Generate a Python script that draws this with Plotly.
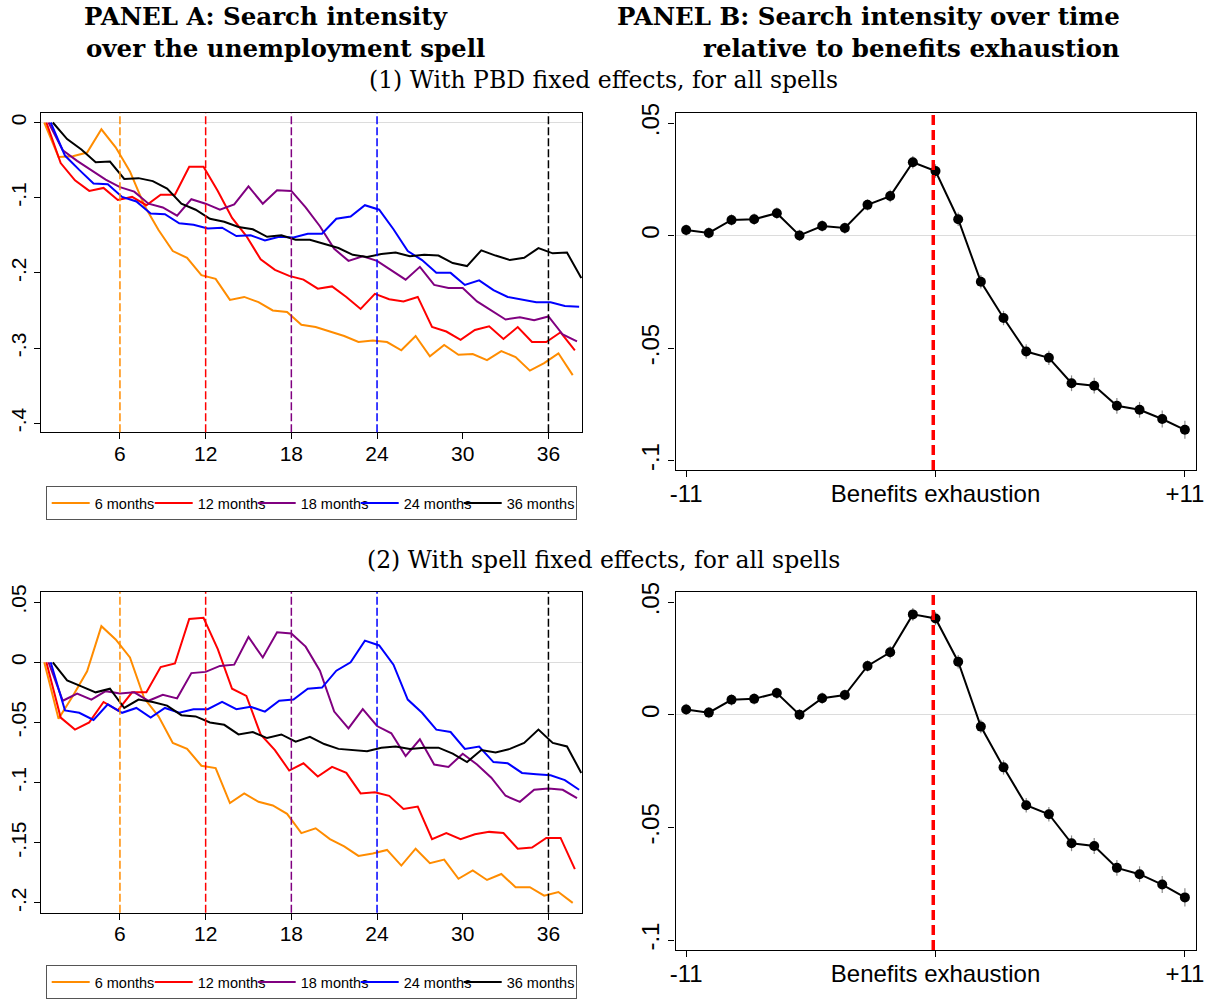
import plotly.graph_objects as go

# ---------------- data ----------------
months = list(range(1, 39))
series_names = ["6 months", "12 months", "18 months", "24 months", "36 months"]
exhaust_months = [6, 12, 18, 24, 36]
series_colors = ["#FF8C00", "#FF0000", "#800080", "#0000FF", "#000000"]
x_jitter = [-0.3, -0.15, 0.0, 0.15, 0.3]

# Panel A (1): PBD fixed effects
pbd_6 = [0, -0.046, -0.045, -0.040, -0.009, -0.033, -0.065, -0.110, -0.143, -0.171,
         -0.180, -0.203, -0.208, -0.236, -0.232, -0.239, -0.250, -0.252, -0.269, -0.272,
         -0.278, -0.284, -0.292, -0.290, -0.292, -0.303, -0.284, -0.311, -0.296, -0.309,
         -0.308, -0.316, -0.304, -0.312, -0.330, -0.320, -0.307, -0.336]
pbd_12 = [0, -0.054, -0.077, -0.091, -0.087, -0.103, -0.099, -0.110, -0.096, -0.096,
          -0.059, -0.059, -0.091, -0.127, -0.151, -0.182, -0.196, -0.204, -0.209, -0.221,
          -0.218, -0.232, -0.248, -0.228, -0.235, -0.238, -0.232, -0.272, -0.278, -0.289,
          -0.276, -0.271, -0.288, -0.272, -0.292, -0.292, -0.279, -0.303]
pbd_18 = [0, -0.037, -0.051, -0.064, -0.076, -0.086, -0.092, -0.108, -0.113, -0.124,
          -0.102, -0.108, -0.116, -0.109, -0.085, -0.108, -0.090, -0.091, -0.113, -0.138,
          -0.168, -0.184, -0.178, -0.184, -0.196, -0.209, -0.192, -0.216, -0.220, -0.220,
          -0.238, -0.250, -0.262, -0.259, -0.263, -0.258, -0.282, -0.291]
pbd_24 = [0, -0.044, -0.063, -0.081, -0.082, -0.099, -0.105, -0.121, -0.122, -0.134,
          -0.136, -0.141, -0.140, -0.151, -0.150, -0.157, -0.152, -0.153, -0.148, -0.148,
          -0.128, -0.125, -0.110, -0.116, -0.142, -0.171, -0.183, -0.200, -0.200, -0.216,
          -0.210, -0.223, -0.232, -0.236, -0.239, -0.239, -0.244, -0.245]
pbd_36 = [0, -0.022, -0.036, -0.053, -0.052, -0.075, -0.074, -0.078, -0.088, -0.108,
          -0.116, -0.128, -0.132, -0.139, -0.142, -0.152, -0.150, -0.156, -0.156, -0.161,
          -0.167, -0.176, -0.179, -0.175, -0.173, -0.178, -0.176, -0.177, -0.187, -0.191,
          -0.170, -0.177, -0.183, -0.180, -0.167, -0.174, -0.173, -0.207]

# Panel A (2): spell fixed effects
spell_6 = [0, -0.047, -0.028, -0.0075, 0.030, 0.019, 0.004, -0.030, -0.045, -0.067,
           -0.072, -0.086, -0.088, -0.117, -0.109, -0.116, -0.119, -0.126, -0.142, -0.138,
           -0.147, -0.153, -0.161, -0.159, -0.156, -0.169, -0.155, -0.167, -0.164, -0.180,
           -0.173, -0.181, -0.176, -0.187, -0.187, -0.194, -0.191, -0.200]
spell_12 = [0, -0.046, -0.056, -0.050, -0.033, -0.040, -0.025, -0.025, -0.004, -0.001,
            0.036, 0.037, 0.011, -0.022, -0.028, -0.060, -0.073, -0.090, -0.084, -0.095,
            -0.087, -0.092, -0.109, -0.108, -0.111, -0.122, -0.120, -0.147, -0.142, -0.147,
            -0.143, -0.141, -0.142, -0.155, -0.154, -0.146, -0.146, -0.172]
spell_18 = [0, -0.032, -0.026, -0.031, -0.024, -0.026, -0.025, -0.032, -0.027, -0.030,
            -0.009, -0.008, -0.003, -0.002, 0.021, 0.004, 0.025, 0.024, 0.013, -0.007,
            -0.041, -0.055, -0.039, -0.053, -0.059, -0.078, -0.064, -0.085, -0.087, -0.076,
            -0.085, -0.096, -0.111, -0.116, -0.106, -0.105, -0.106, -0.113]
spell_24 = [0, -0.040, -0.042, -0.048, -0.035, -0.042, -0.038, -0.046, -0.038, -0.042,
            -0.039, -0.039, -0.033, -0.039, -0.037, -0.041, -0.032, -0.031, -0.022, -0.021,
            -0.007, 0.000, 0.018, 0.014, -0.002, -0.031, -0.042, -0.056, -0.058, -0.072,
            -0.070, -0.083, -0.084, -0.092, -0.093, -0.094, -0.098, -0.106]
spell_36 = [0, -0.015, -0.020, -0.025, -0.022, -0.038, -0.031, -0.033, -0.036, -0.044,
            -0.045, -0.050, -0.052, -0.060, -0.058, -0.063, -0.060, -0.066, -0.062, -0.068,
            -0.072, -0.073, -0.074, -0.071, -0.070, -0.072, -0.071, -0.071, -0.076, -0.083,
            -0.073, -0.075, -0.072, -0.067, -0.056, -0.067, -0.070, -0.092]

# Panel B: relative to benefits exhaustion
rel_months = list(range(-11, 12))
pbd_rel = [0.0025, 0.0012, 0.0070, 0.0073, 0.0100, 0.0001, 0.0043, 0.0034, 0.0137, 0.0176,
           0.0326, 0.0287, 0.0073, -0.0205, -0.0366, -0.0515, -0.0543, -0.0656, -0.0667,
           -0.0756, -0.0774, -0.0815, -0.0863]
pbd_rel_ci = [0.0025, 0.0025, 0.0025, 0.0025, 0.0025, 0.0025, 0.0025, 0.0025, 0.0025, 0.0028,
              0.0028, 0.0030, 0.0030, 0.0030, 0.0032, 0.0032, 0.0032, 0.0035, 0.0035,
              0.0035, 0.0035, 0.0038, 0.0040]
spell_rel = [0.0024, 0.0010, 0.0067, 0.0071, 0.0097, 0.0001, 0.0074, 0.0088, 0.0217, 0.0278,
             0.0446, 0.0428, 0.0236, -0.0052, -0.0233, -0.0401, -0.0441, -0.0570, -0.0582,
             -0.0679, -0.0707, -0.0753, -0.0810]
spell_rel_ci = [0.0025, 0.0025, 0.0025, 0.0025, 0.0025, 0.0025, 0.0025, 0.0025, 0.0025, 0.0028,
                0.0028, 0.0030, 0.0030, 0.0030, 0.0032, 0.0032, 0.0032, 0.0035, 0.0035,
                0.0035, 0.0035, 0.0038, 0.0040]
exhaustion_x = -0.1

left_xticks = [6, 12, 18, 24, 30, 36]
top_left_yticks = [0, -0.1, -0.2, -0.3, -0.4]
top_left_ylabels = ["0", "-.1", "-.2", "-.3", "-.4"]
bot_left_yticks = [0.05, 0, -0.05, -0.1, -0.15, -0.2]
bot_left_ylabels = [".05", "0", "-.05", "-.1", "-.15", "-.2"]
right_yticks = [0.05, 0, -0.05, -0.1]
right_ylabels = [".05", "0", "-.05", "-.1"]
right_xticks = [-11, 0, 11]
right_xlabels = ["-11", "Benefits exhaustion", "+11"]

# ---------------- figure ----------------
W, H = 1211, 999
def fx(px):
    return px / W
def fy(py):
    return 1 - py / H

fig = go.Figure()

top_sets = [pbd_6, pbd_12, pbd_18, pbd_24, pbd_36]
bot_sets = [spell_6, spell_12, spell_18, spell_24, spell_36]
for grp, sets, xa, ya, lg in [(0, top_sets, "x", "y", "legend"), (1, bot_sets, "x3", "y3", "legend2")]:
    for i, name in enumerate(series_names):
        xs = [m + x_jitter[i] for m in months]
        tr = go.Scatter(x=xs, y=sets[i], mode="lines", name=name,
                        line=dict(color=series_colors[i], width=2),
                        xaxis=xa, yaxis=ya, legend=lg)
        if i == len(series_names) - 1:
            tr.legendwidth = 64
        fig.add_trace(tr)

for ys, ci, xa, ya in [(pbd_rel, pbd_rel_ci, "x2", "y2"), (spell_rel, spell_rel_ci, "x4", "y4")]:
    fig.add_trace(go.Scatter(x=rel_months, y=ys, mode="lines+markers", showlegend=False,
                             line=dict(color="black", width=2),
                             marker=dict(color="black", size=10),
                             error_y=dict(type="data", array=ci, visible=True,
                                          color="#8a8a8a", thickness=1.2, width=0),
                             xaxis=xa, yaxis=ya))

tickfont = dict(family="Liberation Sans, Arial, sans-serif", size=21, color="black")
tickfont_r = dict(family="Liberation Sans, Arial, sans-serif", size=24, color="black")

def xaxis_common(domain, rng, tv, tt, font, anchor):
    return dict(domain=domain, range=rng, tickvals=tv, ticktext=tt, tickfont=font,
                ticks="outside", ticklen=6, tickwidth=1.2, tickcolor="black",
                ticklabelstandoff=-4,
                showline=True, linecolor="black", linewidth=1.3, mirror=True,
                showgrid=False, zeroline=False, anchor=anchor, automargin=False,
                fixedrange=True)

def yaxis_common(domain, rng, tv, tt, font, anchor):
    return dict(domain=domain, range=rng, tickvals=tv, ticktext=tt, tickfont=font,
                tickangle=-90, ticks="outside", ticklen=6, tickwidth=1.2, tickcolor="black",
                showline=True, linecolor="black", linewidth=1.3, mirror=True,
                showgrid=False, zeroline=True, zerolinecolor="#dcdcdc", zerolinewidth=1.2,
                anchor=anchor, automargin=False, fixedrange=True)

left_xdom = [fx(41.4), fx(582)]
right_xdom = [fx(675.5), fx(1196)]
top_left_ydom = [fy(434), fy(113.4)]
bot_left_ydom = [fy(916.5), fy(594.4)]
top_right_ydom = [fy(472), fy(113.5)]
bot_right_ydom = [fy(953.7), fy(594)]

legend_style = dict(orientation="h", x=fx(45.7), xanchor="left", yanchor="top",
                    bordercolor="#555555", borderwidth=1, bgcolor="white",
                    font=dict(family="Liberation Sans, Arial, sans-serif", size=14.5, color="black"),
                    itemwidth=38, entrywidth=50, entrywidthmode="pixels", tracegroupgap=0)

fig.update_layout(
    width=W, height=H,
    margin=dict(l=0, r=0, t=0, b=0),
    paper_bgcolor="white", plot_bgcolor="white",
    xaxis=xaxis_common(left_xdom, [0.5, 38.35], left_xticks, [str(v) for v in left_xticks], tickfont, "y"),
    yaxis=yaxis_common(top_left_ydom, [-0.412, 0.0127], top_left_yticks, top_left_ylabels, tickfont, "x"),
    xaxis2=xaxis_common(right_xdom, [-11.47, 11.49], right_xticks, right_xlabels, tickfont_r, "y2"),
    yaxis2=yaxis_common(top_right_ydom, [-0.1042, 0.0545], right_yticks, right_ylabels, tickfont_r, "x2"),
    xaxis3=xaxis_common(left_xdom, [0.5, 38.35], left_xticks, [str(v) for v in left_xticks], tickfont, "y3"),
    yaxis3=yaxis_common(bot_left_ydom, [-0.2083, 0.0584], bot_left_yticks, bot_left_ylabels, tickfont, "x3"),
    xaxis4=xaxis_common(right_xdom, [-11.47, 11.49], right_xticks, right_xlabels, tickfont_r, "y4"),
    yaxis4=yaxis_common(bot_right_ydom, [-0.1043, 0.0547], right_yticks, right_ylabels, tickfont_r, "x4"),
    legend=dict(legend_style, y=fy(488)),
    legend2=dict(legend_style, y=fy(969)),
    showlegend=True,
)

shapes = []
for i, m in enumerate(exhaust_months):
    for xr, yr in [("x", "y domain"), ("x3", "y3 domain")]:
        shapes.append(dict(type="line", xref=xr, yref=yr, x0=m, x1=m, y0=0, y1=1,
                           line=dict(color=series_colors[i], width=1.5, dash="8px,3px"),
                           layer="above"))
for xr, yr in [("x2", "y2 domain"), ("x4", "y4 domain")]:
    shapes.append(dict(type="line", xref=xr, yref=yr, x0=exhaustion_x, x1=exhaustion_x, y0=0, y1=1,
                       line=dict(color="#FF0000", width=3.5, dash="10px,5px"), layer="above"))
fig.update_layout(shapes=shapes)

title_font = dict(family="DejaVu Serif, serif", size=24.5, color="black")
sub_font = dict(family="DejaVu Serif, serif", size=23.5, color="black")
annots = [
    dict(text="<b>PANEL A: Search intensity</b>", x=fx(82), y=fy(17), xanchor="left", font=title_font),
    dict(text="<b>over the unemployment spell</b>", x=fx(84), y=fy(49), xanchor="left", font=title_font),
    dict(text="<b>PANEL B: Search intensity over time</b>", x=fx(1122), y=fy(17), xanchor="right", font=title_font),
    dict(text="<b>relative to benefits exhaustion</b>", x=fx(1122), y=fy(49), xanchor="right", font=title_font),
    dict(text="(1) With PBD fixed effects, for all spells", x=fx(603), y=fy(80), xanchor="center", font=sub_font),
    dict(text="(2) With spell fixed effects, for all spells", x=fx(603), y=fy(562), xanchor="center", font=sub_font),
]
for a in annots:
    a.update(xref="paper", yref="paper", yanchor="middle", showarrow=False)
fig.update_layout(annotations=annots)

fig.write_html("out.html", config={"displayModeBar": False},
               post_script="document.body.style.margin='0';document.body.style.overflow='hidden';")
